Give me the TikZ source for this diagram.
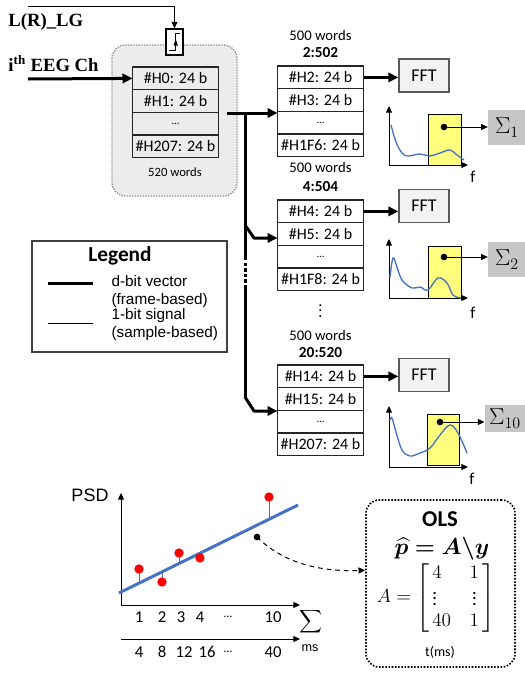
\documentclass[tikz,border=0pt]{standalone}
\usepackage{amsmath,bm}
\usepackage{fontspec}
\setmainfont{Carlito}
\newfontfamily\arialfont{Liberation Sans}
\newfontfamily\timesfont{Liberation Serif}
\usetikzlibrary{arrows.meta,positioning}

\definecolor{boxgray}{RGB}{236,236,236}
\definecolor{sigmagray}{RGB}{198,198,198}
\definecolor{curveblue}{RGB}{68,114,196}
\definecolor{peakyellow}{RGB}{255,255,125}

\tikzset{every picture/.style={line width=0.75pt},
  wordrow/.style={draw=black!85, line width=1pt, outer sep=0pt, inner sep=1pt, minimum width=64.5pt, minimum height=17pt, font=\fontsize{12}{14}\selectfont},
  wordcap/.style={font=\fontsize{11}{13}\selectfont, inner sep=1pt},
  capbold/.style={font=\fontsize{11.5}{13}\selectfont\bfseries, inner sep=1pt},
  fftbox/.style={draw=black!65, fill=black!5, line width=1pt, minimum width=37.5pt, minimum height=24.75pt, font=\fontsize{13.5}{16}\selectfont},
  sigmabox/.style={fill=sigmagray, minimum width=28pt, minimum height=26pt, inner sep=0pt, font=\fontsize{17}{19}\selectfont},
  bus/.style={line width=2.25pt},
  busarrow/.style={bus, -{Triangle[length=7.5pt,width=7pt]}},
  thinarrow/.style={-{Triangle[length=5pt,width=4.5pt]}},
  pdot/.style={circle, fill=black, inner sep=0pt, minimum size=5pt},
  reddot/.style={circle, fill=red, inner sep=0pt, minimum size=7pt},
  axislabel/.style={font=\fontsize{12.5}{14}\selectfont, inner sep=1pt},
  olstext/.style={inner sep=0pt},
}

\begin{document}
\begin{tikzpicture}[x=0.75pt,y=0.75pt,yscale=-1,xscale=1]
	\useasboundingbox (0,0) rectangle (525,675);

	%Shape: Rounded Rectangle [id:buffer]
	\draw [draw=black!45, fill=boxgray, line width=1pt, dash pattern=on 1pt off 1pt, rounded corners=10pt] (112,45) rectangle (237,196);

	% Text Node
	\node [font=\timesfont\fontsize{14}{16}\selectfont\bfseries, anchor=west, inner sep=0pt] (lg) at (8,22) {L(R)\_LG};
	% Text Node
	\node [font=\timesfont\fontsize{14}{16}\selectfont\bfseries, anchor=west, inner sep=0pt] (eeg) at (8,64) {i\textsuperscript{th}~EEG~Ch};

	%Shape: Rectangle [id:comparator]
	\node [draw, fill=white, line width=0.8pt, minimum width=12.75pt, minimum height=19.5pt] (cmp) at (174.5,42) {};
	\draw (169.3,50) -- (175.7,50) -- (175.7,33.3) -- (180,33.3) ;
	\fill (173.5,45.5) -- (177.9,45.5) -- (175.7,39) -- cycle ;
	%Straight Lines [id:lgline]
	\coordinate (lgin) at (28,6);
	\draw [thinarrow] (lgin) -| (cmp.north) ;

	% main buffer words
	\node [wordrow] (m0) at (175.5,78.4) {\#H0: 24 b};
	\node [wordrow, below=0pt of m0] (m1) {\#H1: 24 b};
	\node [wordrow, below=0pt of m1] (m2) {\fontsize{8}{9}\selectfont …};
	\node [wordrow, below=0pt of m2] (m3) {\#H207: 24 b};
	% Text Node
	\node [font=\fontsize{9.5}{11}\selectfont, inner sep=1pt] (mcap) at (175,172) {520 words};

	%Straight Lines [id:eegline]
	\coordinate (eegin) at (28,79);
	\draw [busarrow] (eegin) -- (m0.west) ;

	% frame 1
	\node [wordcap] (c1a) at (320.5,35) {500 words};
	\node [capbold] (c1b) at (320.5,53) {2:502};
	\node [wordrow] (s1r0) at (320.5,77.4) {\#H2: 24 b};
	\node [wordrow, below=0pt of s1r0] (s1r1) {\#H3: 24 b};
	\node [wordrow, below=0pt of s1r1] (s1r2) {\fontsize{8}{9}\selectfont …};
	\node [wordrow, below=0pt of s1r2] (s1r3) {\#H1F6: 24 b};

	% frame 2
	\node [wordcap] (c2a) at (320.5,167) {500 words};
	\node [capbold] (c2b) at (320.5,187) {4:504};
	\node [wordrow] (s2r0) at (320.5,211.4) {\#H4: 24 b};
	\node [wordrow, below=0pt of s2r0] (s2r1) {\#H5: 24 b};
	\node [wordrow, below=0pt of s2r1] (s2r2) {\fontsize{8}{9}\selectfont …};
	\node [wordrow, below=0pt of s2r2] (s2r3) {\#H1F8: 24 b};

	% Text Node
	\node [font=\fontsize{12}{14}\selectfont, inner sep=0pt] (vdots) at (320.5,307) {$\vdots$};

	% frame 10
	\node [wordcap] (c3a) at (320.5,335) {500 words};
	\node [capbold] (c3b) at (320.5,353) {20:520};
	\node [wordrow] (s3r0) at (320.5,376.4) {\#H14: 24 b};
	\node [wordrow, below=0pt of s3r0] (s3r1) {\#H15: 24 b};
	\node [wordrow, below=0pt of s3r1] (s3r2) {\fontsize{8}{9}\selectfont …};
	\node [wordrow, below=0pt of s3r2] (s3r3) {\#H207: 24 b};

	%Straight Lines [id:bus]
	\coordinate (busstart) at (227,113);
	\coordinate (busjoin) at (245,113);
	\coordinate (br2) at (245,225);
	\coordinate (dotA) at (245,257);
	\coordinate (dotB) at (245,285);
	\coordinate (br3) at (245,397);
	\draw [busarrow] (busstart) -- (busstart -| s1r0.west) ;
	\draw [bus] (busjoin) -- (dotA) ;
	\draw [bus, dash pattern=on 2.6pt off 1.6pt] (dotA) -- (dotB) ;
	\draw [bus] (dotB) -- (br3) ;
	\draw [busarrow, line join=round] (br2) -- ++(9,13) coordinate (k2) -- (k2 -| s2r0.west) ;
	\draw [busarrow, line join=round] (br3) -- ++(9,14) coordinate (k3) -- (k3 -| s3r0.west) ;

	% FFT blocks
	\node [fftbox] (fft1) at (424,75.5) {FFT};
	\node [fftbox] (fft2) at (424,206) {FFT};
	\node [fftbox] (fft3) at (424,375) {FFT};
	\draw [busarrow] (s1r0.east) -- (s1r0.east -| fft1.west) ;
	\draw [busarrow] (s2r0.east) -- (s2r0.east -| fft2.west) ;
	\draw [busarrow] (s3r0.east) -- (s3r0.east -| fft3.west) ;

	% spectrum 1
	\draw [fill=peakyellow] (428,114) rectangle (461,165) ;
	\coordinate (o1) at (389,165);
	\draw [thinarrow] (o1) -- ++(0,-59) ;
	\draw [thinarrow] (o1) -- ++(79,0) ;
	\draw [curveblue, line width=1pt] plot[smooth, tension=0.6] coordinates {(391,125) (396,142) (402,153) (408,156) (420,154) (430,156) (440,153) (450,150) (457,155) (464,160)} ;
	\node [pdot] (d1) at (444,127) {};
	\node [sigmabox] (sg1) at (507,127.5) {$\Sigma_1$};
	\draw [thinarrow] (d1.center) -- (d1 -| sg1.west) ;
	\node [axislabel] (f1) at (473,177) {f};

	% spectrum 2
	\draw [fill=peakyellow] (428,246) rectangle (461,298) ;
	\coordinate (o2) at (389,298);
	\draw [thinarrow] (o2) -- ++(0,-59) ;
	\draw [thinarrow] (o2) -- ++(79,0) ;
	\draw [curveblue, line width=1pt] plot[smooth, tension=0.6] coordinates {(390,277) (393,258) (397,267) (402,280) (412,288) (420,287) (428,290) (438,278) (447,283) (453,295) (461,298)} ;
	\node [pdot] (d2) at (444,257) {};
	\node [sigmabox] (sg2) at (507,259.5) {$\Sigma_2$};
	\draw [thinarrow] (d2.center) -- (d2 -| sg2.west) ;
	\node [axislabel] (f2) at (473,313) {f};

	% spectrum 10
	\draw [fill=peakyellow] (427,414) rectangle (459,465) ;
	\coordinate (o3) at (389,467);
	\draw [thinarrow] (o3) -- ++(0,-61) ;
	\draw [thinarrow] (o3) -- ++(79,0) ;
	\draw [curveblue, line width=1pt] plot[smooth, tension=0.6] coordinates {(390,420) (392,418) (396,432) (402,450) (410,456) (420,453) (430,448) (440,435) (450,425) (458,433) (467,453)} ;
	\node [pdot] (d3) at (440,422) {};
	\node [sigmabox, minimum width=30pt, minimum height=20pt] (sg3) at (505,418.5) {$\Sigma_{10}$};
	\draw [thinarrow] (d3.center) -- (d3 -| sg3.west) ;
	\node [axislabel] (f3) at (472,479) {f};

	%Shape: Rectangle [id:legend]
	\draw [line width=1pt, draw=black!75] (32,241) rectangle (227,352) ;
	\node [font=\fontsize{16}{18}\selectfont\bfseries, inner sep=1pt] (legtitle) at (120,256) {Legend};
	\draw [bus] (48,283) -- (93,283) ;
	\draw (48,323) -- (93,323) ;
	\node [font=\arialfont\fontsize{11.5}{13}\selectfont, anchor=west, align=left, inner sep=0pt] (leg1) at (111,291.5) {d-bit vector\\(frame-based)};
	\node [font=\arialfont\fontsize{11.5}{13}\selectfont, anchor=west, align=left, inner sep=0pt] (leg2) at (111,324.5) {1-bit signal\\(sample-based)};

	% PSD fit
	\node [font=\arialfont\fontsize{13.5}{15}\selectfont, inner sep=1pt] (psd) at (90,495) {PSD};
	\draw [thinarrow] (121,605) -- (121,493) ;
	\draw [thinarrow] (121,605) -- (300,605) ;
	\draw [curveblue] (139,569) -- (139,583) ;
	\draw [curveblue] (162,582) -- (162,572) ;
	\draw [curveblue] (179,553) -- (179,563.5) ;
	\draw [curveblue] (269,497) -- (269,519.3) ;
	\draw [curveblue, line width=2.25pt] (119,593) -- (298,505) ;
	\node [reddot] (r1) at (139,569) {};
	\node [reddot] (r2) at (162,582) {};
	\node [reddot] (r3) at (179,553) {};
	\node [reddot] (r4) at (200,558) {};
	\node [reddot] (r5) at (269,497) {};
	\node [pdot] (pd) at (257,537) {};

	% Text Node
	\node [axislabel] (n1) at (139,617) {1};
	\node [axislabel] (n2) at (162,617) {2};
	\node [axislabel] (n3) at (181,617) {3};
	\node [axislabel] (n4) at (200,617) {4};
	\node [font=\fontsize{9}{10}\selectfont] (n5) at (228,617) {…};
	\node [axislabel] (n6) at (273,617) {10};
	\node [font=\fontsize{13}{15}\selectfont, inner sep=0pt] (sumlab) at (311,622) {$\displaystyle\sum$};
	\draw [thinarrow] (121,639) -- (300,639) ;
	\node [axislabel] (t1) at (139,652) {4};
	\node [axislabel] (t2) at (162,652) {8};
	\node [axislabel] (t3) at (184,652) {12};
	\node [axislabel] (t4) at (207,652) {16};
	\node [font=\fontsize{9}{10}\selectfont] (t5) at (228,652) {…};
	\node [axislabel] (t6) at (273,652) {40};
	\node [font=\arialfont\fontsize{9.5}{11}\selectfont, inner sep=0pt] (mslab) at (310,648) {ms};

	%Shape: Rounded Rectangle [id:ols]
	\node [draw, line width=1.2pt, dash pattern=on 1.2pt off 1.2pt, rounded corners=10pt, minimum width=111.75pt, minimum height=125.25pt] (ols) at (440.5,583.5) {};
	\node [olstext, font=\fontsize{17}{19}\selectfont\bfseries] (olst) at (440,519) {OLS};
	\node [olstext, font=\fontsize{17}{19}\selectfont] (olseq) at (442,549) {$\bm{\widehat{p} = A\backslash y}$};
	\node [olstext, font=\fontsize{14}{16}\selectfont] (olsmat) at (436,598) {$A = \left[\begin{array}{@{\,}l@{\quad}c@{\,}} 4 & 1\\ \vdots & \vdots\\ 40 & 1\end{array}\right]$};
	\node [olstext, font=\fontsize{10.5}{12}\selectfont] (olsunit) at (440,652) {t(ms)};
	\draw [thinarrow, dash pattern=on 3.5pt off 3pt] (pd.center) .. controls (282,562) and (318,572) .. (ols.170) ;

\end{tikzpicture}
\end{document}
